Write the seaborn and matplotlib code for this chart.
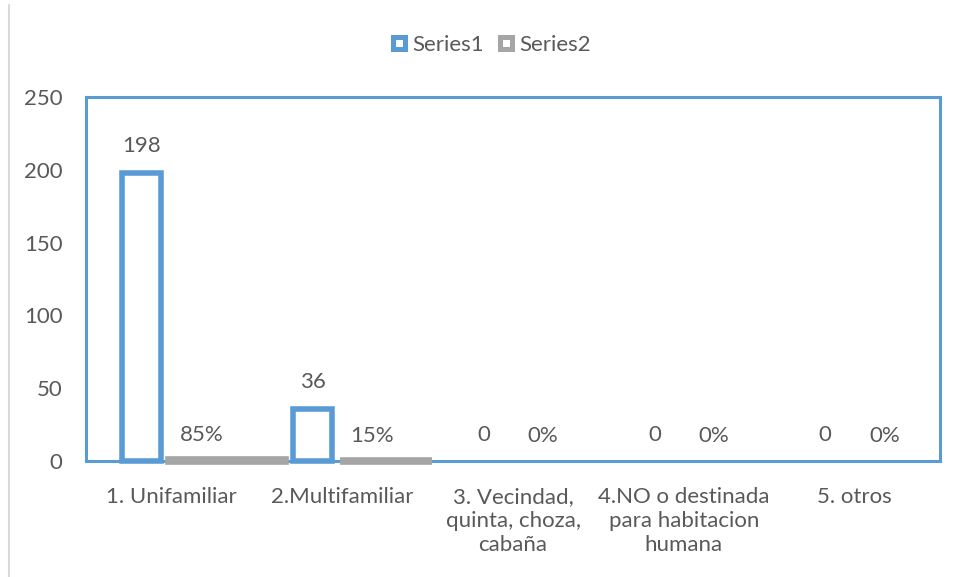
import matplotlib
matplotlib.use('Agg')
import matplotlib.pyplot as plt
from matplotlib.lines import Line2D
import numpy as np
import pandas as pd
import seaborn as sns

# data
categories = ['1. Unifamiliar', '2.Multifamiliar', '3. Vecindad,\nquinta, choza,\ncabaña',
              '4.NO o destinada\npara habitacion\nhumana', '5. otros']
series1 = [198, 36, 0, 0, 0]
series2 = [0.85, 0.15, 0, 0, 0]
series2_labels = ['85%', '15%', '0%', '0%', '0%']

blue = '#5B9BD5'
gray = '#A5A5A5'
text_col = '#595959'

sns.set_theme(style='white')
plt.rcParams['font.family'] = ['Lato', 'DejaVu Sans']

df = pd.DataFrame({
    'cat': categories * 2,
    'val': series1 + series2,
    'series': ['Series1'] * 5 + ['Series2'] * 5,
})

fig = plt.figure(figsize=(9.6, 5.77), dpi=100)
ax = fig.add_axes([86 / 960, 116 / 577, 854 / 960, 364 / 577])

sns.barplot(data=df, x='cat', y='val', hue='series', order=categories,
            palette=[blue, gray], width=0.69, legend=False, ax=ax)

# Series1: hollow bars with thick blue outline
for i, p in enumerate(ax.containers[0].patches):
    cx = p.get_x() + p.get_width() / 2
    p.set_x(cx - 0.114)
    p.set_width(0.228)
    p.set_facecolor('white')
    p.set_edgecolor(blue)
    p.set_linewidth(4)
    p.set_zorder(3)
    p.set_clip_on(False)
    if series1[i] == 0:
        p.set_visible(False)

# Series2: tiny values, show up as thick gray strips on the baseline
gray_span = [(-0.014, 0.665), (-0.013, 0.526)]
for i, p in enumerate(ax.containers[1].patches):
    if series2[i] == 0:
        p.set_visible(False)
        continue
    x0, x1 = gray_span[i]
    p.set_x(i + x0)
    p.set_width(x1 - x0)
    p.set_facecolor(gray)
    p.set_edgecolor(gray)
    p.set_linewidth(5.5)
    p.set_joinstyle('miter')
    p.set_zorder(4)
    p.set_clip_on(False)

# value labels
for i in range(len(categories)):
    ax.annotate(str(series1[i]), (i - 0.172, series1[i]), xytext=(0, 19),
                textcoords='offset points', ha='center', va='center',
                fontsize=16, color=text_col)
    ax.annotate(series2_labels[i], (i + 0.176, series2[i]), xytext=(0, 18),
                textcoords='offset points', ha='center', va='center',
                fontsize=16, color=text_col)

ax.set_xlim(-0.5, 4.5)
ax.set_ylim(0, 250)
ax.set_yticks(np.arange(0, 251, 50))
ax.set_xlabel('')
ax.set_ylabel('')
ax.tick_params(axis='both', length=0, colors=text_col, labelsize=16)
ax.tick_params(axis='y', pad=17)
ax.tick_params(axis='x', pad=19)
for t in ax.get_xticklabels():
    t.set_linespacing(1.25)
for s in ax.spines.values():
    s.set_visible(True)
    s.set_color(blue)
    s.set_linewidth(2.2)

handles = [Line2D([], [], marker='s', linestyle='', markersize=8, markerfacecolor='white',
                  markeredgecolor=blue, markeredgewidth=3.6),
           Line2D([], [], marker='s', linestyle='', markersize=8, markerfacecolor='white',
                  markeredgecolor=gray, markeredgewidth=3.6)]
fig.legend(handles, ['Series1', 'Series2'], loc='center', bbox_to_anchor=(0.51, 0.922),
           ncol=2, frameon=False, fontsize=16, labelcolor=text_col,
           handletextpad=0.1, columnspacing=0.5, handlelength=1.0)

# chart border fragment on the left
fig.add_artist(Line2D([9 / 960, 9 / 960], [0, 572 / 577], color='#D9D9D9', linewidth=1.5))

fig.savefig('out.png', dpi=100, facecolor='white')
